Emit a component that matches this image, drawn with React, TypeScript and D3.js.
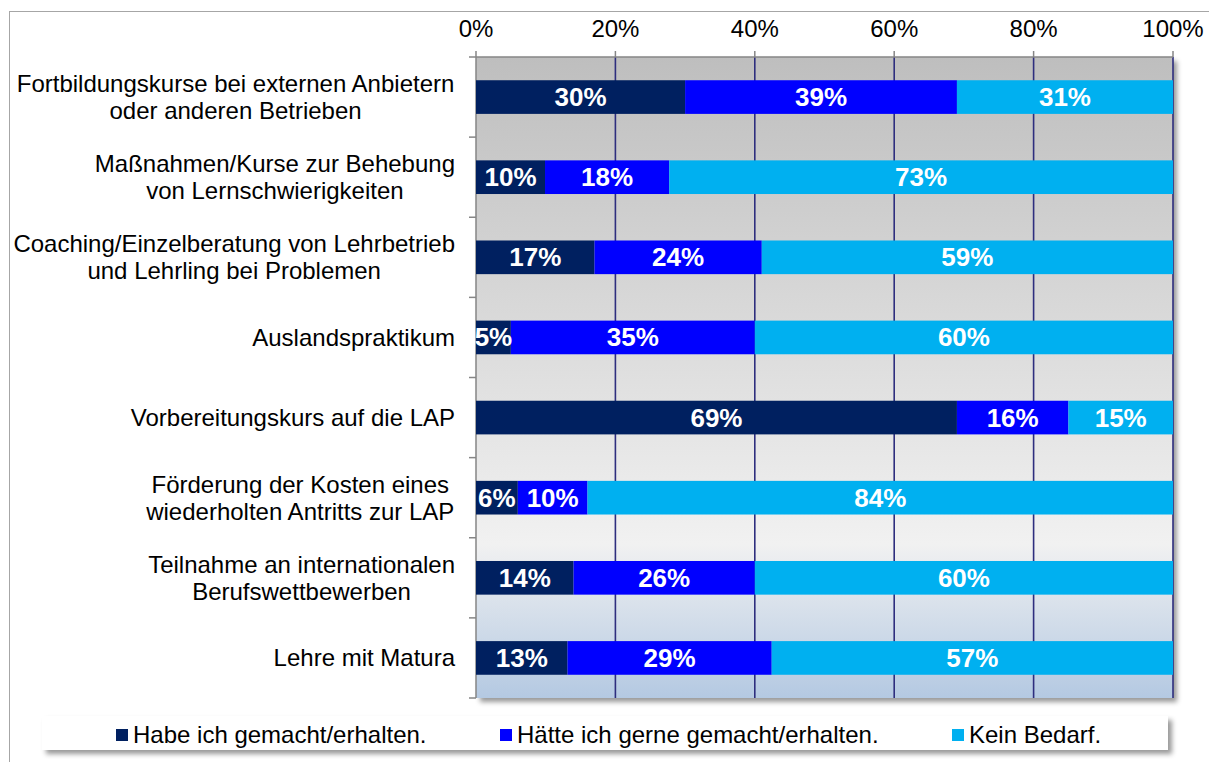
import { useMemo } from "react";
import * as d3 from "d3";

// categories (line breaks as in the original)
const categories = [
  "Fortbildungskurse bei externen Anbietern\noder anderen Betrieben",
  "Maßnahmen/Kurse zur Behebung\nvon Lernschwierigkeiten",
  "Coaching/Einzelberatung von Lehrbetrieb\nund Lehrling bei Problemen",
  "Auslandspraktikum",
  "Vorbereitungskurs auf die LAP",
  "Förderung der Kosten eines\nwiederholten Antritts zur LAP",
  "Teilnahme an internationalen\nBerufswettbewerben",
  "Lehre mit Matura",
];
const habe = [30, 10, 17, 5, 69, 6, 14, 13];
const haette = [39, 18, 24, 35, 16, 10, 26, 29];
const keinBedarf = [31, 73, 59, 60, 15, 84, 60, 57];
const seriesKeys = ["habe", "haette", "kein"];
const seriesNames = [
  "Habe ich gemacht/erhalten.",
  "Hätte ich gerne gemacht/erhalten.",
  "Kein Bedarf.",
];
const seriesColors = ["#002060", "#0000ff", "#00b0f0"];
const xTicks = [0, 0.2, 0.4, 0.6, 0.8, 1];

const W = 1209;
const H = 762;
const MARGIN = { top: 57, right: 36, bottom: 64, left: 476 };
const FONT = "'Liberation Sans', Arial, sans-serif";
const LEGEND_X = [116, 500, 952];

type Row = { cat: string; habe: number; haette: number; kein: number };

const rows: Row[] = categories.map((c, i) => ({
  cat: c,
  habe: habe[i],
  haette: haette[i],
  kein: keinBedarf[i],
}));

let ctx: CanvasRenderingContext2D | null = null;
const measure = (s: string, font: string) => {
  if (!ctx) ctx = document.createElement("canvas").getContext("2d");
  if (!ctx) return s.length * 11;
  ctx.font = font;
  return ctx.measureText(s).width;
};

const App = () => {
  const innerW = W - MARGIN.left - MARGIN.right;
  const innerH = H - MARGIN.top - MARGIN.bottom;

  const x = useMemo(() => d3.scaleLinear().domain([0, 1]).range([0, innerW]), [innerW]);
  const y = useMemo(
    () =>
      d3
        .scaleBand<string>()
        .domain(categories)
        .range([0, innerH])
        .paddingInner(0.58)
        .paddingOuter(0.29),
    [innerH]
  );
  const step = y.step();

  const series = d3
    .stack<Row>()
    .keys(seriesKeys)
    .offset(d3.stackOffsetExpand)(rows);

  const boundaries = d3.range(categories.length + 1).map((i) => i * step);

  return (
    <div style={{ position: "absolute", left: 0, top: 0 }}>
      <svg width={W} height={H} style={{ display: "block", fontFamily: FONT }}>
        <defs>
          <linearGradient id="plotBg" x1="0" y1="0" x2="0" y2="1">
            <stop offset="0" stopColor="#bebebe" />
            <stop offset="0.76" stopColor="#f1f1f1" />
            <stop offset="1" stopColor="#b4c9e2" />
          </linearGradient>
          <filter id="shadow" x="-5%" y="-5%" width="115%" height="130%">
            <feDropShadow dx="4" dy="4" stdDeviation="2.5" floodColor="#000" floodOpacity="0.4" />
          </filter>
        </defs>

        <rect x={W * 0 + 9.5} y={11.5} width={W} height={H} fill="#fff" stroke="#a6a6a6" strokeWidth={1} />

        <g transform={`translate(${MARGIN.left},${MARGIN.top})`}>
          <rect x={0} y={0} width={innerW} height={innerH} fill="url(#plotBg)" filter="url(#shadow)" />

          {/* vertical gridlines */}
          {xTicks.slice(1).map((t) => (
            <line key={t} x1={x(t)} x2={x(t)} y1={0} y2={innerH} stroke="#2e2e7e" strokeWidth={1.6} />
          ))}

          {/* top axis */}
          <line x1={0} x2={innerW} y1={0} y2={0} stroke="#868686" strokeWidth={1.5} />
          {xTicks.map((t) => (
            <g key={t} transform={`translate(${x(t)},0)`}>
              <line y1={-6} y2={0} stroke="#868686" strokeWidth={1.5} />
              <text y={-20} textAnchor="middle" fontSize={24} fill="#000">
                {d3.format(".0%")(t)}
              </text>
            </g>
          ))}

          {/* left axis */}
          <line x1={0} x2={0} y1={0} y2={innerH} stroke="#868686" strokeWidth={1.5} />
          {boundaries.map((b) => (
            <line key={b} x1={-7} x2={0} y1={b} y2={b} stroke="#868686" strokeWidth={1.5} />
          ))}

          {/* category labels */}
          {categories.map((c) => {
            const lines = c.split("\n");
            const maxW = d3.max(lines, (l) => measure(l, `24px ${FONT}`)) || 0;
            const cx = -21 - maxW / 2;
            const cy = (y(c) || 0) + y.bandwidth() / 2;
            const lh = 27;
            const first = cy + 8.5 - ((lines.length - 1) * lh) / 2;
            return (
              <text key={c} textAnchor="middle" fontSize={24} fill="#000">
                {lines.map((l, i) => (
                  <tspan key={i} x={cx} y={first + i * lh}>
                    {l}
                  </tspan>
                ))}
              </text>
            );
          })}

          {/* bars */}
          {series.map((s, si) => (
            <g key={s.key} fill={seriesColors[si]}>
              {s.map((d, j) => (
                <rect
                  key={j}
                  x={x(d[0])}
                  y={y(d.data.cat)}
                  width={x(d[1]) - x(d[0])}
                  height={y.bandwidth()}
                />
              ))}
            </g>
          ))}

          {/* data labels */}
          {series.map((s) => (
            <g key={s.key}>
              {s.map((d, j) => (
                <text
                  key={j}
                  x={(x(d[0]) + x(d[1])) / 2}
                  y={(y(d.data.cat) || 0) + y.bandwidth() / 2 + 9}
                  textAnchor="middle"
                  fontSize={26}
                  fontWeight="bold"
                  fill="#fff"
                >
                  {d.data[s.key as keyof Row]}%
                </text>
              ))}
            </g>
          ))}
        </g>

        {/* legend */}
        <rect x={42} y={716} width={1126} height={34} fill="#fff" filter="url(#shadow)" />
        {seriesNames.map((n, i) => (
          <g key={n} transform={`translate(${LEGEND_X[i]},0)`}>
            <rect x={0} y={729} width={12} height={12} fill={seriesColors[i]} />
            <text x={17} y={743} fontSize={24} fill="#000">
              {n}
            </text>
          </g>
        ))}
      </svg>
    </div>
  );
};

export default App;
